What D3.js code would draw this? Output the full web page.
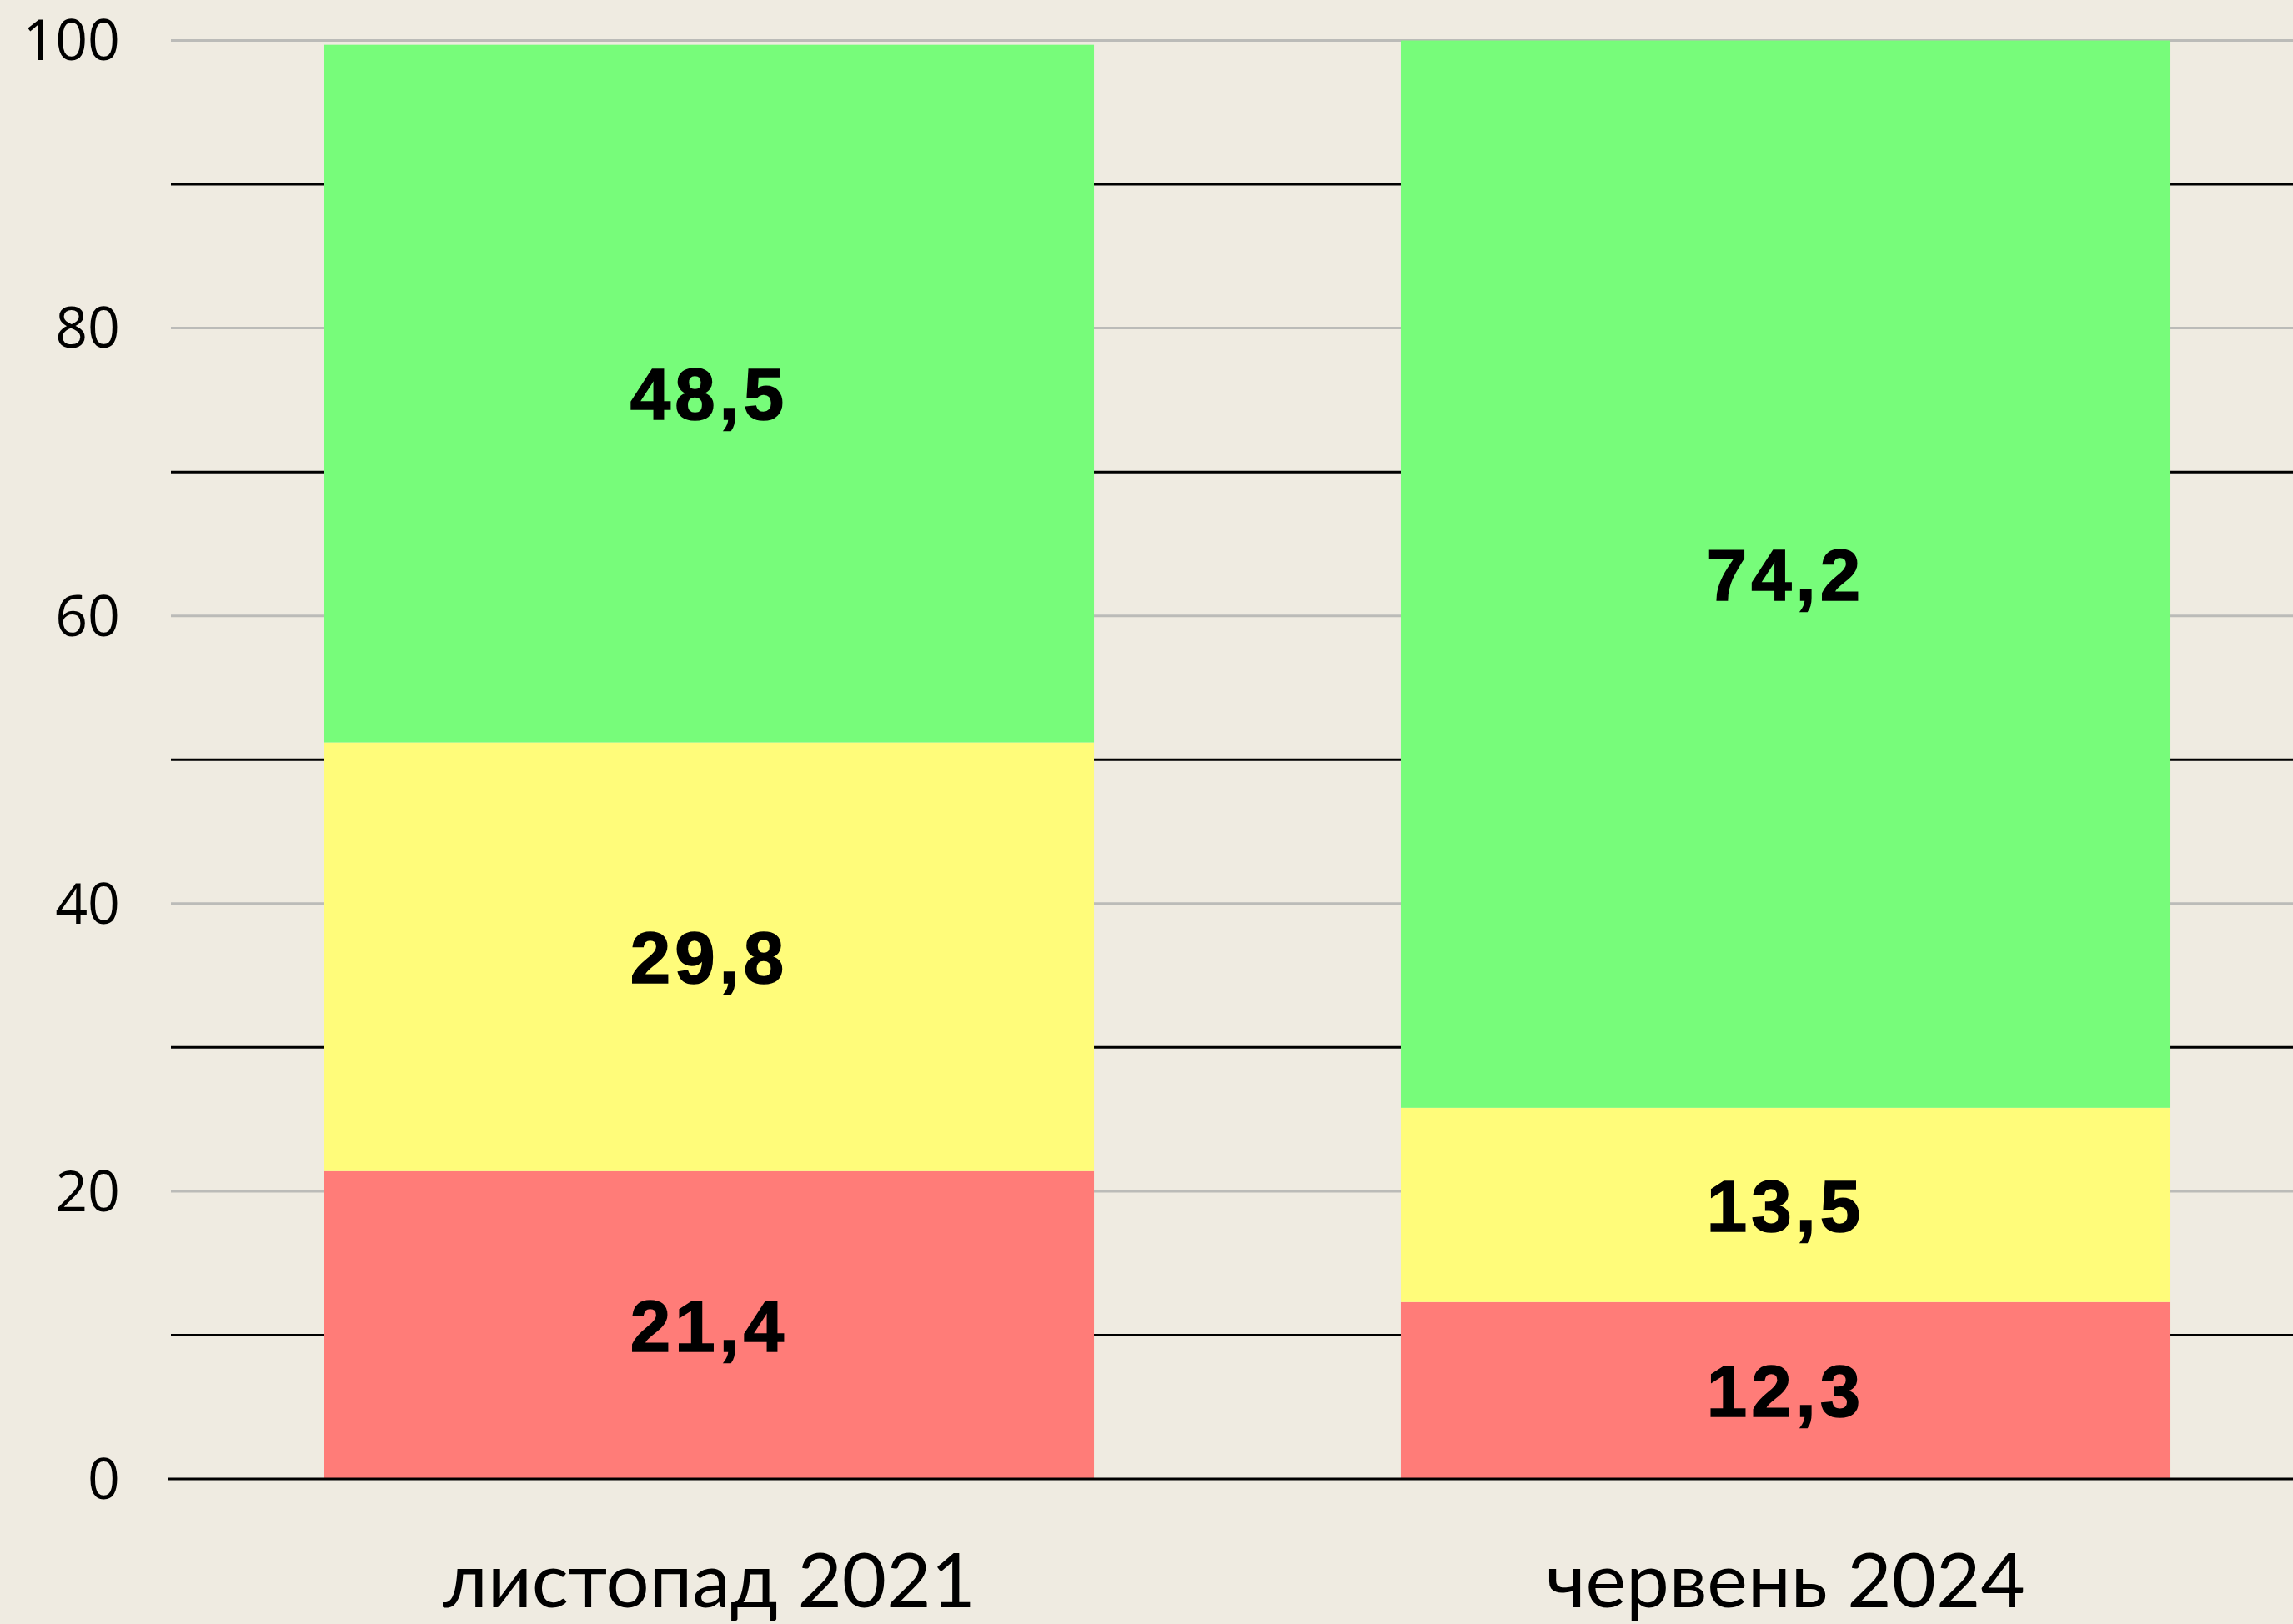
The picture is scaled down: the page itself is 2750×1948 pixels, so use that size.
<!DOCTYPE html>
<html>
<head>
<meta charset="utf-8">
<script src="https://cdn.jsdelivr.net/npm/d3@7"></script>
<style>
  body { margin: 0; background: #efebe1; }
  svg { display: block; }
</style>
</head>
<body>
<svg id="chart"></svg>
<script>
var width = 2750, height = 1948;

// data
var periods = ["листопад 2021", "червень 2024"];
var redVals = [21.4, 12.3];
var yellowVals = [29.8, 13.5];
var greenVals = [48.5, 74.2];
var yTicks = [0, 20, 40, 60, 80, 100];
var gridTicks = [10, 20, 30, 40, 50, 60, 70, 80, 90, 100];

var colors = { red: "#ff7c78", yellow: "#fffc7a", green: "#77fc7a" };

var svg = d3.select("#chart")
	.attr("width", width)
	.attr("height", height);

var xScale = d3.scaleBand()
	.domain(periods)
	.range([205, 2787])
	.paddingInner(0.285)
	.paddingOuter(0.1425);

var yScale = d3.scaleLinear()
	.domain([0, 100])
	.range([1774, 48.5]);

// gridlines: the even tens are grey, the odd tens black
svg.append("g").selectAll("line")
	.data(gridTicks)
	.enter().append("line")
	.attr("x1", 205)
	.attr("x2", width)
	.attr("y1", function(d){ return yScale(d); })
	.attr("y2", function(d){ return yScale(d); })
	.style("stroke", function(d){ return d % 20 == 0 ? "#bbbbb8" : "#000"; })
	.style("stroke-width", 3);

// build stacked rows
var rows = periods.map(function(p, i){
	return { period: p, red: redVals[i], yellow: yellowVals[i], green: greenVals[i] };
});
var keys = ["red", "yellow", "green"];
var stacked = d3.stack().keys(keys)(rows);

var layers = svg.append("g").selectAll("g")
	.data(stacked)
	.enter().append("g")
	.style("fill", function(d){ return colors[d.key]; });

layers.selectAll("rect")
	.data(function(d){ return d; })
	.enter().append("rect")
	.attr("x", function(d){ return xScale(d.data.period); })
	.attr("width", xScale.bandwidth())
	.attr("y", function(d){ return yScale(d[1]); })
	.attr("height", function(d){ return yScale(d[0]) - yScale(d[1]); });

// value labels
layers.selectAll("text")
	.data(function(d){ return d.map(function(s){ return { s: s, key: d.key }; }); })
	.enter().append("text")
	.attr("x", function(d){ return xScale(d.s.data.period) + xScale.bandwidth()/2; })
	.attr("y", function(d){ return yScale((d.s[0] + d.s[1])/2); })
	.attr("dy", "0.36em")
	.attr("text-anchor", "middle")
	.style("fill", "#000")
	.style("stroke", "#000")
	.style("stroke-width", 1.5)
	.style("font-family", "'Liberation Sans', Arial, sans-serif")
	.style("font-weight", "bold")
	.style("font-size", "87px")
	.style("letter-spacing", "5px")
	.text(function(d){ return String(d.s.data[d.key]).replace(".", ","); });

// zero line on top
svg.append("line")
	.attr("x1", 202)
	.attr("x2", width)
	.attr("y1", yScale(0))
	.attr("y2", yScale(0))
	.style("stroke", "#000")
	.style("stroke-width", 3);

// y axis labels
svg.append("g").selectAll("text")
	.data(yTicks)
	.enter().append("text")
	.attr("x", 144)
	.attr("y", function(d){ return yScale(d); })
	.attr("dy", "0.35em")
	.attr("text-anchor", "end")
	.style("font-family", "'Open Sans', sans-serif")
	.style("font-size", "68px")
	.style("fill", "#000")
	.text(function(d){ return d; });

// x axis labels
svg.append("g").selectAll("text")
	.data(periods)
	.enter().append("text")
	.attr("x", function(d){ return xScale(d) + xScale.bandwidth()/2; })
	.attr("y", 1928)
	.attr("text-anchor", "middle")
	.style("font-family", "Lato, sans-serif")
	.style("font-size", "92px")
	.style("fill", "#000")
	.text(function(d){ return d; });
</script>
</body>
</html>
